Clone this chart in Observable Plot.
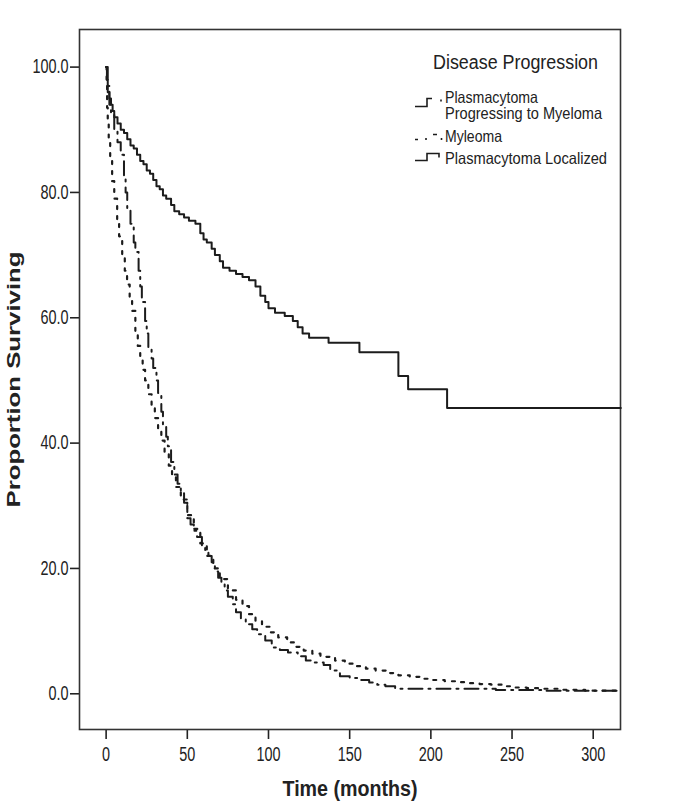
<!DOCTYPE html>
<html><head><meta charset="utf-8">
<script src="https://cdn.jsdelivr.net/npm/d3@7"></script>
<script src="https://cdn.jsdelivr.net/npm/@observablehq/plot@0.6"></script>
<style>
body{margin:0;background:#fff;}
#wrap{position:relative;width:685px;height:812px;overflow:hidden;}
#legend{position:absolute;left:0;top:0;pointer-events:none;}
</style></head><body><div id="wrap"></div>
<script>
// ---- data ----
const xTicks = [0, 50, 100, 150, 200, 250, 300];
const yTicks = [0, 20, 40, 60, 80, 100];
const groups = ["Plasmacytoma Progressing to Myeloma", "Myleoma", "Plasmacytoma Localized"];
const legendTitle = "Disease Progression";

const progT = [0, 1, 2, 3, 5, 7, 9, 11, 12, 13, 15, 17, 18, 20, 21, 22, 24, 25, 26, 28, 29, 31, 32, 34, 35, 37, 38, 40, 42, 44, 46, 48, 50, 52, 54, 56, 59, 61, 63, 65, 67, 69, 71, 73, 75, 78, 80, 83, 86, 90, 93, 98, 102, 107, 112, 118, 123, 128, 134, 138, 144, 150, 155, 162, 167, 172, 178, 240, 270, 317];
const progV = [100, 97, 94, 92.5, 90, 88, 86, 82.5, 80, 77.5, 75, 72, 70.5, 67.5, 65, 62.5, 59.5, 57.5, 55, 53.5, 52, 50, 48, 45, 43, 41, 39.5, 37, 35, 33.5, 32, 30.5, 28, 27, 26, 25, 23.3, 22.5, 22, 21, 19.5, 18.5, 17.8, 16.5, 15.5, 14.3, 13, 12, 11.1, 10.3, 9.5, 8.5, 7.4, 7, 6.6, 6, 5.3, 5, 4.6, 3.7, 2.8, 2.5, 2.2, 1.8, 1.45, 1.2, 0.8, 0.6, 0.5, 0.5];

const myeT = [0, 0.3, 0.6, 1, 1.6, 2.5, 3.7, 5, 6.8, 8, 9.9, 11.5, 12.9, 14.5, 16, 18, 19.5, 21, 22.5, 24, 26, 28, 30, 32, 34, 36, 38.6, 40.6, 43, 46, 50, 54, 58, 62, 66, 70, 75, 80, 84, 88, 92, 96, 101, 106, 111.5, 116, 121.7, 127, 132, 141, 147, 152.7, 160, 166, 173, 180, 187, 194, 201, 208.5, 215, 222, 230, 237, 245, 252, 259, 266, 279, 295, 317];
const myeV = [100, 97, 93.5, 91, 88.7, 85, 81.8, 79, 75.4, 73, 70.1, 67.5, 65.3, 63, 61.1, 57.4, 55.5, 53.6, 51.7, 50, 47.8, 45.7, 44, 42, 40.4, 38.3, 36.4, 34.8, 33, 31, 28.5, 26.3, 24, 22, 20, 18.3, 16.5, 15, 14, 12.7, 11.6, 10.7, 9.8, 9, 8.2, 7.5, 6.9, 6.4, 5.9, 5.3, 4.8, 4.4, 4, 3.7, 3.3, 2.95, 2.7, 2.4, 2.2, 2, 1.85, 1.7, 1.55, 1.45, 1.2, 1, 0.9, 0.8, 0.64, 0.5, 0.45];

const locT = [0, 0.5, 1, 2, 3, 4, 5, 7, 9, 11, 13, 15, 17, 19, 21, 23, 25, 27, 29, 31, 33, 35, 37, 40, 42, 45, 48, 51, 55, 58, 60, 62, 65, 67, 70, 72, 76, 80, 84, 88, 92, 95, 98, 100, 104, 110, 115, 118, 121, 125, 137, 156, 180, 186, 210, 317];
const locV = [100, 98, 96, 95, 94, 93, 92, 91, 90, 89.5, 88.5, 87.5, 87, 86, 85, 84.5, 83.5, 83, 82, 81, 80.5, 79.5, 79, 78, 77, 76.5, 76, 75.5, 75, 73.5, 72.5, 72, 71, 70, 69, 68, 67.5, 67, 66.5, 66, 65, 63.5, 62.5, 61.5, 60.8, 60.3, 59.5, 58.5, 57.5, 56.8, 56, 54.5, 50.7, 48.6, 45.6, 45.6];

const toRows = (ts, vs, g) => ts.map((t, i) => ({time: t, surv: vs[i], group: g}));
const prog = toRows(progT, progV, groups[0]);
const mye = toRows(myeT, myeV, groups[1]);
const loc = toRows(locT, locV, groups[2]);

const ink = "#1c1c1c";
const chart = Plot.plot({
  width: 685, height: 812,
  marginLeft: 79, marginRight: 65, marginTop: 29, marginBottom: 83,
  style: {fontFamily: "'Liberation Sans',Arial,sans-serif", fontSize: "19.5px", color: "#222", background: "#fff"},
  x: {domain: [-16.4, 316.8]},
  y: {domain: [-5.7, 106.0]},
  marks: [
    Plot.axisX({ticks: xTicks, tickSize: 10, tickPadding: 8, strokeWidth: 1.6, label: "Time (months)", labelAnchor: "center", labelOffset: 66, labelArrow: false}),
    Plot.axisY({ticks: yTicks, tickFormat: d => d.toFixed(1), tickSize: 9, tickPadding: 2, strokeWidth: 1.6, label: "Proportion Surviving", labelAnchor: "center", labelOffset: 72, labelArrow: false}),
    Plot.frame({stroke: "#333", strokeWidth: 1.6}),
    Plot.line(loc, {x: "time", y: "surv", curve: "step-after", stroke: ink, strokeWidth: 2}),
    Plot.line(mye, {x: "time", y: "surv", curve: "step-after", stroke: ink, strokeWidth: 2.2, strokeDasharray: "3,7"}),
    Plot.line(prog, {x: "time", y: "surv", curve: "step-after", stroke: ink, strokeWidth: 2, strokeDasharray: "14,6,2,6"})
  ]
});
document.getElementById("wrap").appendChild(chart);

const svg = d3.select(chart);
// tick labels: condensed like the original
svg.selectAll("[aria-label='x-axis tick label'] text, [aria-label='y-axis tick label'] text").each(function() {
  const w = this.getComputedTextLength();
  d3.select(this).attr("textLength", w * 0.74).attr("lengthAdjust", "spacingAndGlyphs");
});
// axis titles: bold, stretched like the original
svg.selectAll("[aria-label='x-axis label'] text")
  .attr("font-weight", "bold").attr("font-size", 22)
  .attr("textLength", 135).attr("lengthAdjust", "spacingAndGlyphs");
svg.selectAll("[aria-label='y-axis label'] text")
  .attr("font-weight", "bold").attr("font-size", 18)
  .attr("textLength", 256).attr("lengthAdjust", "spacingAndGlyphs");

// legend inside the plot frame
const lg = d3.select("#wrap").append("svg").attr("id", "legend").attr("width", 685).attr("height", 200)
  .attr("font-family", "'Liberation Sans',Arial,sans-serif").attr("fill", "#222");
lg.append("text").attr("x", 433).attr("y", 68.5).attr("font-size", 19.5).text(legendTitle)
  .attr("textLength", 165).attr("lengthAdjust", "spacingAndGlyphs");
const entryLines = [["Plasmacytoma", 102.5, 93], ["Progressing to Myeloma", 119, 157], [groups[1], 141.5, 57], [groups[2], 163.5, 162]];
entryLines.forEach(([s, y, len]) => lg.append("text").attr("x", 445).attr("y", y).attr("font-size", 16.5)
  .attr("textLength", len).attr("lengthAdjust", "spacingAndGlyphs").text(s));
const sym = lg.append("g").attr("fill", "none").attr("stroke", ink).attr("stroke-width", 1.6);
sym.append("path").attr("d", "M415,106.5H427V98.5H432");
sym.append("path").attr("d", "M441,99.5v2");
sym.append("path").attr("d", "M415,139.5H418M426,138v2M433,134.5H437M441.5,138v2");
sym.append("path").attr("d", "M415,160.5H427V153.5H439V157.5");
</script></body></html>
